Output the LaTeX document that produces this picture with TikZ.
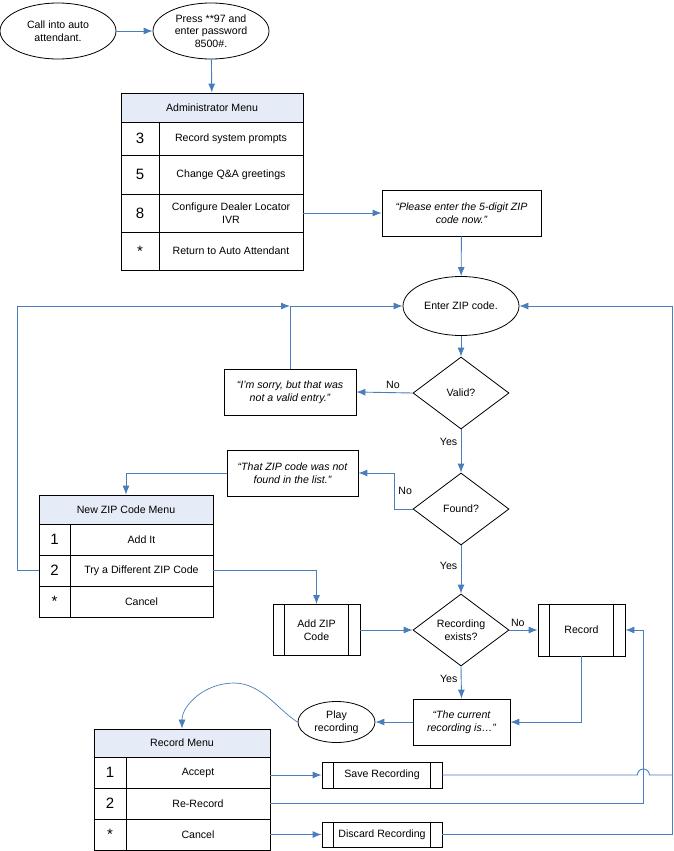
\documentclass[tikz,border=0pt]{standalone}
\usepackage{fontspec}
\setmainfont{Liberation Sans}
\usetikzlibrary{shapes.geometric,arrows.meta}
\definecolor{flow}{RGB}{74,126,187}
\definecolor{menuhead}{RGB}{230,236,247}

\begin{document}
\begin{tikzpicture}[x=1pt, y=-1pt, align=center, line width=0.8pt,
  >={Latex[length=9pt,width=7pt]}, font=\fontsize{10.6}{12.6}\selectfont]
\tikzstyle{oval}=[draw, ellipse, inner sep=0pt]
\tikzstyle{say}=[draw, rectangle, inner sep=0pt, font=\fontsize{10.6}{12.6}\selectfont\itshape]
\tikzstyle{decision}=[draw, diamond, inner sep=0pt, minimum width=96pt, minimum height=72pt]
\tikzstyle{proc}=[draw, rectangle, inner sep=0pt]
\tikzstyle{cell}=[draw, rectangle, inner sep=0pt]
\tikzstyle{keycell}=[cell, font=\fontsize{15}{15}\selectfont]
\tikzstyle{headcell}=[cell, fill=menuhead]
\tikzstyle{link}=[->, draw=flow, line width=0.9pt]
\tikzstyle{wire}=[draw=flow, line width=0.9pt]
\useasboundingbox (0,0) rectangle (673,851);

% start
\node[oval, minimum width=116pt, minimum height=56pt] (call) at (58,31) {Call into auto\\attendant.};
\node[oval, minimum width=116pt, minimum height=56pt] (press) at (211,31) {Press **97 and\\enter password\\8500\#.};

% administrator menu
\node[headcell, minimum width=182pt, minimum height=29pt] (admhead) at (212,107.5) {Administrator Menu};
\node[keycell, minimum width=38pt, minimum height=33pt] (adm3key) at (140,138.5) {3};
\node[cell, minimum width=144pt, minimum height=33pt] (adm3) at (231,138.5) {Record system prompts};
\node[keycell, minimum width=38pt, minimum height=39pt] (adm5key) at (140,174.5) {5};
\node[cell, minimum width=144pt, minimum height=39pt] (adm5) at (231,174.5) {Change Q\&A greetings};
\node[keycell, minimum width=38pt, minimum height=38pt] (adm8key) at (140,213) {8};
\node[cell, minimum width=144pt, minimum height=38pt] (adm8) at (231,213) {Configure Dealer Locator\\IVR};
\node[keycell, minimum width=38pt, minimum height=38pt] (admxkey) at (140,251) {*};
\node[cell, minimum width=144pt, minimum height=38pt] (admx) at (231,251) {Return to Auto Attendant};

% zip code loop
\node[say, minimum width=159pt, minimum height=46pt] (please) at (461.5,213) {“Please enter the 5-digit ZIP\\code now.”};
\node[oval, minimum width=116pt, minimum height=59pt] (zip) at (461,306) {Enter ZIP code.};
\node[decision] (valid) at (461,393) {Valid?};
\node[say, minimum width=132pt, minimum height=46pt] (sorry) at (290,392) {“I’m sorry, but that was\\not a valid entry.”};
\node[decision] (found) at (461,509) {Found?};
\node[say, minimum width=131pt, minimum height=46pt] (notfound) at (292.5,473) {“That ZIP code was not\\found in the list.”};

% new zip code menu
\node[headcell, minimum width=174pt, minimum height=29pt] (newhead) at (126,509.5) {New ZIP Code Menu};
\node[keycell, minimum width=31pt, minimum height=31pt] (new1key) at (54.5,539.5) {1};
\node[cell, minimum width=143pt, minimum height=31pt] (new1) at (141.5,539.5) {Add It};
\node[keycell, minimum width=31pt, minimum height=31pt] (new2key) at (54.5,570.5) {2};
\node[cell, minimum width=143pt, minimum height=31pt] (new2) at (141.5,570.5) {Try a Different ZIP Code};
\node[keycell, minimum width=31pt, minimum height=31pt] (newxkey) at (54.5,601.5) {*};
\node[cell, minimum width=143pt, minimum height=31pt] (newx) at (141.5,601.5) {Cancel};

% recording
\node[proc, minimum width=87pt, minimum height=51pt] (addzip) at (316.5,630) {Add ZIP\\Code};
\node[decision] (exists) at (461,630) {Recording\\exists?};
\node[proc, minimum width=87pt, minimum height=52pt] (record) at (581.5,630) {Record};
\node[say, minimum width=97pt, minimum height=46pt] (current) at (461.5,722) {“The current\\recording is…”};
\node[oval, minimum width=77pt, minimum height=41pt] (play) at (336.5,722) {Play\\recording};
\foreach \p in {addzip, record}
  \draw ([xshift=12pt]\p.north west) -- ([xshift=12pt]\p.south west)
        ([xshift=-12pt]\p.north east) -- ([xshift=-12pt]\p.south east);

% record menu
\node[headcell, minimum width=176pt, minimum height=28pt] (rechead) at (182,743) {Record Menu};
\node[keycell, minimum width=32pt, minimum height=31pt] (rec1key) at (110,772.5) {1};
\node[cell, minimum width=144pt, minimum height=31pt] (rec1) at (198,772.5) {Accept};
\node[keycell, minimum width=32pt, minimum height=31pt] (rec2key) at (110,803.5) {2};
\node[cell, minimum width=144pt, minimum height=31pt] (rec2) at (198,803.5) {Re-Record};
\node[keycell, minimum width=32pt, minimum height=31pt] (recxkey) at (110,834.5) {*};
\node[cell, minimum width=144pt, minimum height=31pt] (recx) at (198,834.5) {Cancel};
\node[proc, minimum width=120pt, minimum height=26pt] (save) at (382,775) {Save Recording};
\node[proc, minimum width=120pt, minimum height=25pt] (discard) at (382,834.5) {Discard Recording};
\foreach \p in {save, discard}
  \draw ([xshift=12pt]\p.north west) -- ([xshift=12pt]\p.south west)
        ([xshift=-12pt]\p.north east) -- ([xshift=-12pt]\p.south east);

\coordinate (join) at (sorry.north |- zip.west);
\coordinate (rbus) at ([xshift=153pt]zip.east);
\coordinate (rrec) at ([xshift=18pt]record.east);

\draw[link] (call) -- (press);
\draw[link] (press) -- (admhead);
\draw[link] (adm8.east) -- (please.west);
\draw[link] (please) -- (zip);
\draw[link] (zip) -- (valid);
\draw[link] (valid.west) -- node[pos=0.35, above, text=black] {No} (sorry.east);
\draw[link] (sorry.north) |- (zip.west);
\draw[link] (new2key.west) -- ++(-21,0) |- (join);
\draw[link] (valid.south) -- node[pos=0.3, left, text=black] {Yes} (found.north);
\draw[link] (found.west) -- ++(-18,0) |- node[pos=0.25, right, text=black] {No} (notfound.east);
\draw[link] (notfound.west) -| (newhead.north);
\draw[link] (new2.east) -| (addzip.north);
\draw[link] (addzip.east) -- (exists.west);
\draw[link] (found.south) -- node[pos=0.42, left, text=black] {Yes} (exists.north);
\draw[link] (exists.east) -- node[pos=0.3, above, text=black] {No} (record.west);
\draw[link] (exists.south) -- node[pos=0.4, left, text=black] {Yes} (current.north);
\draw[link] (record.south) |- (current.east);
\draw[link] (current.west) -- (play.east);
\draw[link, line width=0.7pt] (play.west) .. controls (280,712) and (262,683) .. (234,683)
  .. controls (205,683) and (182,705) .. (rechead.north);
\draw[link] (rec1.east |- save.west) -- (save.west);
\draw[link] (recx.east) -- (discard.west);
\draw[wire] (save.east) -- ([xshift=-6pt]rrec |- save.east)
  arc[start angle=180, end angle=360, radius=6] -- (rbus |- save.east);
\draw[link] (discard.east) -| (rbus) -- (zip.east);
\draw[link] (rec2.east) -| (rrec) -- (record.east);
\end{tikzpicture}
\end{document}
